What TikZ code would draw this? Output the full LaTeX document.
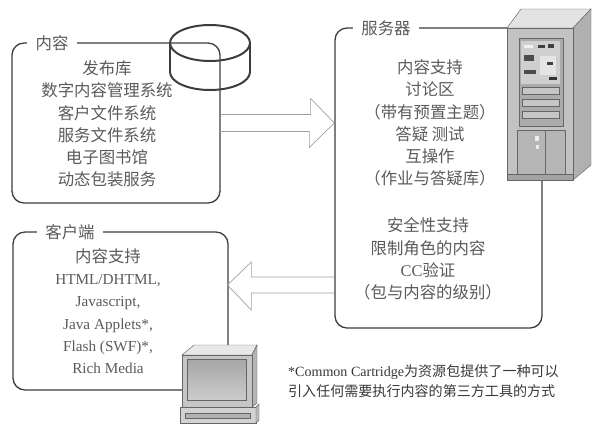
\documentclass[tikz,border=0pt]{standalone}
\usepackage{fontspec}
\setmainfont{Liberation Serif}
\newfontfamily\cjk{Noto Sans CJK SC}
\usepackage{xcolor}
\usetikzlibrary{fit, calc}

\definecolor{ink}{HTML}{5A5A5A}
\definecolor{edge}{HTML}{3C3C3C}

\begin{document}
\begin{tikzpicture}[
    x=0.3mm, y=-0.3mm,
    panel/.style={draw=edge, line width=1.1pt, rounded corners=3.6mm, inner sep=0pt},
    tag/.style={fill=white, text=ink, font=\cjk\fontsize{14}{19}\selectfont,
                inner xsep=2.6mm, inner ysep=1pt},
    body/.style={text=ink, font=\cjk\fontsize{14}{19}\selectfont, align=center},
    hollow/.style={draw=gray!75, line width=0.6pt, line join=miter},
    can/.style={draw=edge, line width=1.7pt},
    part/.style={draw=black!60, line width=0.4pt},
]
\useasboundingbox (0,0) rectangle (594,426);

% the three panels
\node[panel, fit={(12,43) (220,203)}] (content) {};
\node[panel, fit={(335,28) (542,328)}] (server) {};
\node[panel, fit={(13,232) (228,390)}] (client) {};

\node[tag] (content-tag) at (52,43) {内容};
\node[tag] (server-tag) at (386,28) {服务器};
\node[tag] (client-tag) at (70,232) {客户端};

% repository drum
\draw[can] (210,43) ellipse [x radius=40, y radius=18];
\draw[can] (170,43) -- (170,72) arc [start angle=180, end angle=0, x radius=40, y radius=18] -- (250,43);

% hollow arrows between panels
\draw[hollow] (content.east) ++(0,-8.5) -- ++(90,0) -- ++(0,-16) -- (server.west |- content.east)
    -- ++(-25,24.5) -- ++(0,-16) -- ++(-90,0);
\draw[hollow] (server.west |- 0,277) -- ++(-83,0) -- ++(0,-15) -- ++(-24,23)
    -- ++(24,25) -- ++(0,-17) -- ++(83,0);

% server tower
\fill[gray!22, part] (507,28) -- (521,9) -- (591,9) -- (573,28) -- cycle;
\fill[gray!62, part] (573,28) -- (591,9) -- (591,165) -- (573,180) -- cycle;
\fill[gray!48, part] (507,28) rectangle (573,180);
\fill[gray!66, part] (519,38) rectangle (563,126);
\fill[gray!38] (521,41) rectangle (560,84);
\fill[gray!10] (524,45) rectangle (533,48);
\fill[black!75] (538,45) rectangle (545,48);
\fill[black!75] (548,44) rectangle (554,48);
\fill[black!70] (524,55) rectangle (534,61);
\fill[gray!20] (540,56) rectangle (556,75);
\fill[black!75] (547,62) rectangle (553,65);
\fill[black!70] (524,70) rectangle (536,74);
\fill[black!80] (549,77) rectangle (557,80);
\foreach \y in {87,99,111}
  \fill[gray!45, part] (522,\y) rectangle (559,\y+7);
\fill[gray!58, part] (517,130) rectangle (565,174);
\draw[part] (545,130) -- (545,174);
\fill[gray!15] (535,136) rectangle (539,141);
\fill[gray!15] (536,145) rectangle (539,149);
\fill[gray!72, part] (507,174) rectangle (573,180);

% client computer
\fill[gray!18, part] (182,355) -- (194,345) -- (257,345) -- (252,355) -- cycle;
\fill[gray!58, part] (252,355) -- (257,345) -- (257,403) -- (252,407) -- cycle;
\fill[gray!45, part] (182,355) rectangle (252,407);
\shade[top color=gray!70, bottom color=gray!40, part] (187,359) rectangle (246,400);
\fill[gray!35, part] (180,407) rectangle (256,423);
\fill[gray!55, part] (256,407) -- (259,404) -- (259,420) -- (256,423) -- cycle;
\fill[gray!60, part] (185,413) rectangle (250,418);

% panel texts
\node[body] (content-list) at (107,124)
    {发布库\\数字内容管理系统\\客户文件系统\\服务文件系统\\电子图书馆\\动态包装服务};
\node[body] (server-list) at (430,123)
    {内容支持\\讨论区\\（带有预置主题）\\答疑 测试\\互操作\\（作业与答疑库）};
\node[body] (server-safe) at (428,259)
    {安全性支持\\限制角色的内容\\{\rmfamily CC}验证\\（包与内容的级别）};
\node[body, font=\rmfamily\fontsize{13}{19}\selectfont] (client-list) at (108,311)
    {{\cjk\fontsize{14}{19}\selectfont 内容支持}\\HTML/DHTML,\\Javascript,\\Java Applets*,\\Flash (SWF)*,\\Rich Media};

\node[anchor=west, align=left, text=black!78, font=\rmfamily\fontsize{12}{16.5}\selectfont] (note) at (284,381)
    {*Common Cartridge{\cjk 为资源包提供了一种可以}\\{\cjk 引入任何需要执行内容的第三方工具的方式}};
\end{tikzpicture}
\end{document}
